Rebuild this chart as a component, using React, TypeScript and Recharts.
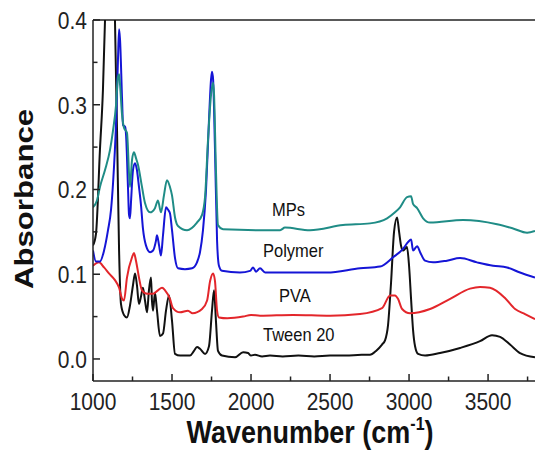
import React from 'react';
import { LineChart, Line, XAxis, YAxis, ReferenceLine, Customized } from 'recharts';

// Tween 20 (black)
const tweenWn = [1000, 1019, 1044, 1063, 1076, 1095, 1108, 1120, 1133, 1139, 1152, 1165, 1177, 1196, 1215, 1234, 1253, 1266, 1278, 1291, 1304, 1316, 1329, 1342, 1354, 1367, 1373, 1380, 1392, 1405, 1424, 1443, 1462, 1481, 1500, 1519, 1551, 1614, 1639, 1658, 1677, 1709, 1734, 1753, 1766, 1778, 1791, 1816, 1899, 1950, 1981, 2000, 2025, 2070, 2120, 2200, 2300, 2400, 2500, 2600, 2700, 2753, 2791, 2829, 2848, 2867, 2886, 2905, 2924, 2937, 2950, 2962, 2975, 2987, 3000, 3013, 3025, 3038, 3057, 3101, 3196, 3323, 3449, 3525, 3576, 3639, 3702, 3797];
const tweenAbs = [0.134, 0.148, 0.247, 0.318, 0.4, 0.55, 0.6, 0.58, 0.47, 0.4, 0.27, 0.128, 0.065, 0.052, 0.049, 0.063, 0.087, 0.101, 0.087, 0.065, 0.074, 0.084, 0.069, 0.055, 0.081, 0.096, 0.069, 0.057, 0.078, 0.057, 0.027, 0.03, 0.057, 0.075, 0.045, 0.006, 0.004, 0.004, 0.0095, 0.014, 0.012, 0.006, 0.015, 0.057, 0.081, 0.045, 0.0095, 0.004, 0.002, 0.008, 0.007, 0.004, 0.005, 0.003, 0.004, 0.003, 0.004, 0.003, 0.004, 0.004, 0.005, 0.005, 0.0095, 0.017, 0.022, 0.04, 0.09, 0.15, 0.167, 0.15, 0.133, 0.128, 0.13, 0.132, 0.11, 0.07, 0.035, 0.015, 0.006, 0.004, 0.007, 0.013, 0.021, 0.028, 0.026, 0.017, 0.007, 0.002];

// PVA (red)
const pvaWn = [1000, 1038, 1070, 1101, 1139, 1165, 1184, 1196, 1215, 1247, 1259, 1272, 1291, 1310, 1342, 1380, 1411, 1437, 1456, 1487, 1506, 1551, 1601, 1630, 1690, 1722, 1741, 1760, 1772, 1785, 1797, 1850, 1950, 2000, 2057, 2266, 2500, 2690, 2829, 2880, 2911, 2930, 2956, 3006, 3133, 3260, 3386, 3449, 3512, 3607, 3671, 3734, 3797];
const pvaAbs = [0.11, 0.114, 0.108, 0.101, 0.093, 0.084, 0.071, 0.069, 0.096, 0.12, 0.125, 0.116, 0.096, 0.081, 0.077, 0.077, 0.081, 0.084, 0.081, 0.071, 0.06, 0.055, 0.057, 0.054, 0.059, 0.069, 0.092, 0.101, 0.092, 0.057, 0.049, 0.048, 0.05, 0.052, 0.051, 0.052, 0.051, 0.053, 0.06, 0.075, 0.075, 0.071, 0.059, 0.054, 0.059, 0.071, 0.083, 0.085, 0.084, 0.072, 0.059, 0.053, 0.047];

// Polymer (blue)
const polyWn = [1000, 1019, 1044, 1070, 1095, 1114, 1127, 1146, 1158, 1165, 1171, 1184, 1190, 1203, 1209, 1222, 1228, 1234, 1241, 1253, 1266, 1278, 1291, 1304, 1316, 1335, 1361, 1380, 1399, 1405, 1418, 1430, 1443, 1462, 1475, 1487, 1500, 1519, 1538, 1582, 1627, 1658, 1677, 1696, 1715, 1734, 1747, 1753, 1760, 1772, 1785, 1797, 1816, 1930, 1994, 2013, 2032, 2057, 2089, 2266, 2481, 2690, 2816, 2899, 2962, 2994, 3013, 3025, 3051, 3070, 3101, 3152, 3240, 3323, 3430, 3532, 3620, 3702, 3797];
const polyAbs = [0.128, 0.115, 0.115, 0.128, 0.152, 0.176, 0.208, 0.279, 0.353, 0.389, 0.377, 0.306, 0.276, 0.274, 0.265, 0.199, 0.17, 0.166, 0.187, 0.223, 0.231, 0.223, 0.203, 0.181, 0.154, 0.134, 0.126, 0.128, 0.14, 0.146, 0.134, 0.122, 0.146, 0.179, 0.176, 0.172, 0.152, 0.119, 0.107, 0.106, 0.107, 0.114, 0.126, 0.152, 0.199, 0.282, 0.33, 0.339, 0.33, 0.247, 0.14, 0.11, 0.104, 0.102, 0.104, 0.108, 0.103, 0.107, 0.102, 0.102, 0.102, 0.107, 0.109, 0.12, 0.13, 0.138, 0.141, 0.128, 0.133, 0.126, 0.116, 0.114, 0.116, 0.119, 0.114, 0.11, 0.108, 0.102, 0.096];

// MPs (teal)
const mpsWn = [1000, 1025, 1044, 1076, 1108, 1127, 1146, 1158, 1165, 1171, 1184, 1196, 1215, 1234, 1247, 1259, 1272, 1285, 1310, 1329, 1361, 1392, 1411, 1430, 1449, 1468, 1487, 1500, 1519, 1538, 1595, 1658, 1690, 1709, 1728, 1747, 1760, 1766, 1778, 1791, 1823, 2038, 2184, 2215, 2373, 2582, 2753, 2861, 2911, 2943, 2987, 3013, 3025, 3051, 3089, 3133, 3342, 3557, 3658, 3747, 3797];
const mpsAbs = [0.179, 0.187, 0.203, 0.223, 0.247, 0.27, 0.3, 0.333, 0.336, 0.324, 0.288, 0.273, 0.267, 0.203, 0.235, 0.244, 0.237, 0.229, 0.203, 0.184, 0.173, 0.178, 0.187, 0.173, 0.193, 0.211, 0.203, 0.193, 0.167, 0.157, 0.152, 0.161, 0.17, 0.191, 0.259, 0.312, 0.326, 0.312, 0.223, 0.158, 0.153, 0.152, 0.152, 0.155, 0.152, 0.158, 0.16, 0.166, 0.173, 0.179, 0.191, 0.192, 0.183, 0.178, 0.166, 0.161, 0.164, 0.159, 0.154, 0.149, 0.151];

const xTicks = [1000, 1250, 1500, 1750, 2000, 2250, 2500, 2750, 3000, 3250, 3500, 3750];
const yTicks = [0, 0.05, 0.1, 0.15, 0.2, 0.25, 0.3, 0.35, 0.4];

const seriesLabels = [
  { text: 'MPs', x: 272, y: 216 },
  { text: 'Polymer', x: 263, y: 257 },
  { text: 'PVA', x: 279, y: 302 },
  { text: 'Tween 20', x: 263, y: 341 },
];

const toRows = (wn: number[], abs: number[]) => wn.map((w, i) => ({ wn: w, a: abs[i] }));

const AX = '#222';
const FONT = '"Liberation Sans", Arial, sans-serif';
const STRETCH = 1.15;

const XTick = (props: any) => {
  const { x, y, payload } = props;
  const major = payload.value % 500 === 0;
  return (
    <g>
      <line x1={x} x2={x} y1={y} y2={y - (major ? 7 : 4.5)} stroke={AX} strokeWidth={1.5} />
      {major && (
        <text transform={`translate(${x},${y + 28.5}) scale(1,${STRETCH})`} textAnchor="middle" fontSize={21} fontFamily={FONT} fill="#222">
          {payload.value}
        </text>
      )}
    </g>
  );
};

const YTick = (props: any) => {
  const { x, y, payload } = props;
  const v = payload.value;
  const major = Math.abs(v * 10 - Math.round(v * 10)) < 1e-6;
  return (
    <g>
      <line x1={x} x2={x + (major ? 7 : 4.5)} y1={y} y2={y} stroke={AX} strokeWidth={1.5} />
      {major && (
        <text transform={`translate(${x - 6},${y + 9}) scale(1,${STRETCH})`} textAnchor="end" fontSize={21} fontFamily={FONT} fill="#222">
          {v.toFixed(1)}
        </text>
      )}
    </g>
  );
};

const Annotations = () => (
  <g fontFamily={FONT} fill="#111">
    {seriesLabels.map((l) => (
      <text key={l.text} transform={`translate(${l.x},${l.y}) scale(1,${STRETCH})`} fontSize={16.5}>
        {l.text}
      </text>
    ))}
    <text transform={`translate(310,443) scale(1,${STRETCH})`} textAnchor="middle" fontSize={27} fontWeight="bold">
      Wavenumber (cm<tspan dy={-11} fontSize={16}>-1</tspan><tspan dy={11}>)</tspan>
    </text>
    <text transform={`translate(33,199) scale(1,1.2) rotate(-90)`} textAnchor="middle" fontSize={26} fontWeight="bold">
      Absorbance
    </text>
  </g>
);

export default function App() {
  return (
    <div style={{ width: 535, height: 451, background: '#fff' }}>
      <style>{`body{margin:0}`}</style>
      <LineChart width={535} height={451} margin={{ top: 20, right: 0, bottom: 0, left: 0 }}>
        <XAxis
          type="number"
          dataKey="wn"
          domain={[1000, 3797]}
          allowDataOverflow
          ticks={xTicks}
          interval={0}
          height={70}
          tickSize={0}
          tickMargin={0}
          tickLine={false}
          tick={<XTick />}
          axisLine={{ stroke: AX, strokeWidth: 1.5 }}
        />
        <YAxis
          type="number"
          dataKey="a"
          domain={[-0.026, 0.4]}
          allowDataOverflow
          ticks={yTicks}
          interval={0}
          width={93}
          tickSize={0}
          tickMargin={0}
          tickLine={false}
          tick={<YTick />}
          axisLine={{ stroke: AX, strokeWidth: 1.5 }}
        />
        <ReferenceLine y={0.4} stroke={AX} strokeWidth={1.5} />
        <Line data={toRows(tweenWn, tweenAbs)} dataKey="a" type="monotone" stroke="#111111" strokeWidth={2} dot={false} isAnimationActive={false} />
        <Line data={toRows(pvaWn, pvaAbs)} dataKey="a" type="monotone" stroke="#e3262b" strokeWidth={2} dot={false} isAnimationActive={false} />
        <Line data={toRows(polyWn, polyAbs)} dataKey="a" type="monotone" stroke="#1515d6" strokeWidth={2} dot={false} isAnimationActive={false} />
        <Line data={toRows(mpsWn, mpsAbs)} dataKey="a" type="monotone" stroke="#1f8c86" strokeWidth={2} dot={false} isAnimationActive={false} />
        <Customized component={<Annotations />} />
      </LineChart>
    </div>
  );
}
